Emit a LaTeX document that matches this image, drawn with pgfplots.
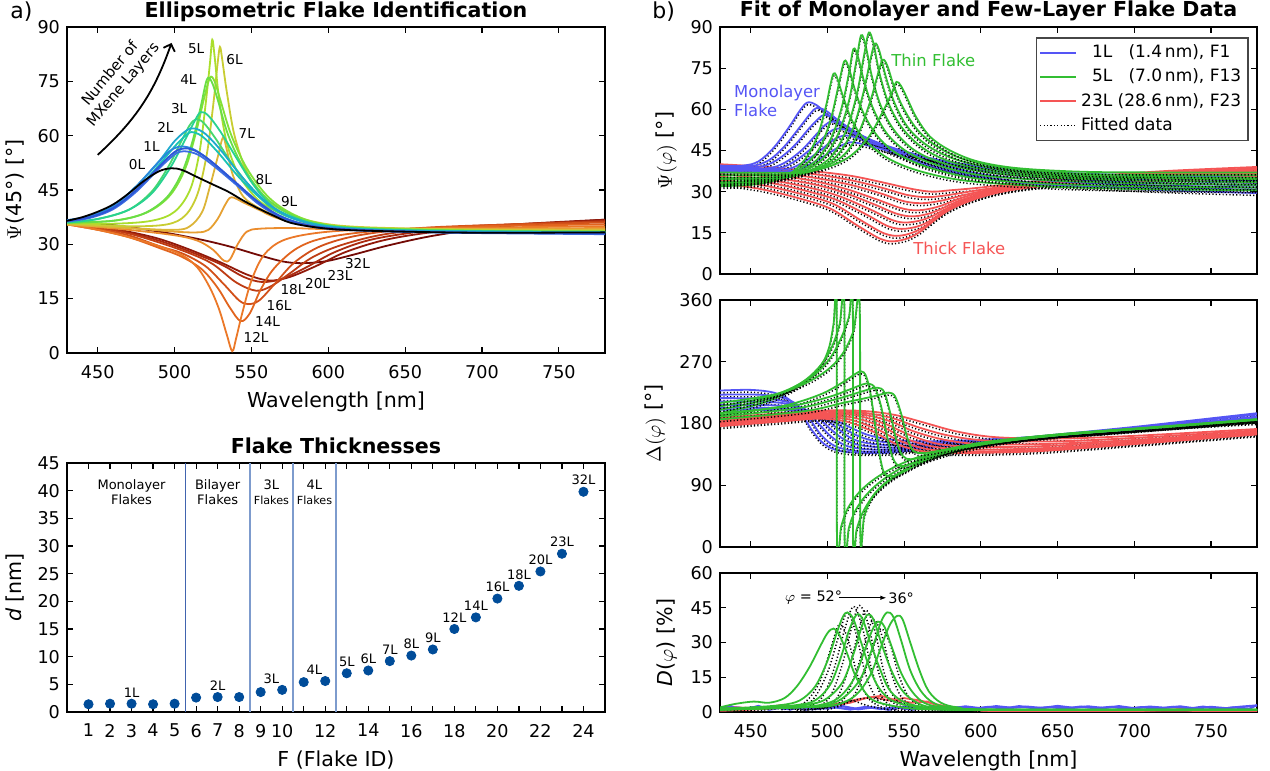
\documentclass[border=0pt]{standalone}
\usepackage{fontspec}
\setmainfont{DejaVu Sans}
\usepackage{pgfplots}
\usepackage{pgfplotstable}
\pgfplotsset{compat=1.18}
\usetikzlibrary{arrows.meta}

% right-hand panels
\definecolor{bl}{RGB}{85,85,245}
\definecolor{gr}{RGB}{50,190,50}
\definecolor{rd}{RGB}{245,85,85}
\definecolor{dotc}{RGB}{0,76,153}
\definecolor{lnA}{RGB}{65,100,175}
\definecolor{lnB}{RGB}{125,155,205}
% left panel colour map
\definecolor{kA}{RGB}{45,85,215}
\definecolor{kB}{RGB}{60,110,225}
\definecolor{kC}{RGB}{40,135,220}
\definecolor{kD}{RGB}{30,170,205}
\definecolor{kE}{RGB}{25,195,180}
\definecolor{kF}{RGB}{40,210,145}
\definecolor{kG}{RGB}{70,215,110}
\definecolor{kH}{RGB}{105,222,70}
\definecolor{kI}{RGB}{130,225,55}
\definecolor{kJ}{RGB}{170,222,45}
\definecolor{kK}{RGB}{200,205,50}
\definecolor{kL}{RGB}{220,180,55}
\definecolor{kM}{RGB}{230,160,50}
\definecolor{kN}{RGB}{235,140,45}
\definecolor{kO}{RGB}{235,120,40}
\definecolor{kP}{RGB}{225,100,30}
\definecolor{kQ}{RGB}{210,80,25}
\definecolor{kR}{RGB}{190,60,20}
\definecolor{kS}{RGB}{170,42,15}
\definecolor{kT}{RGB}{145,25,10}
\definecolor{kU}{RGB}{115,10,5}

\pgfplotsset{
  base/.style={
    scale only axis, anchor=south west,
    axis line style={line width=0.8pt},
    every tick/.style={black, line width=0.6pt},
    major tick length=2.8pt,
    tick label style={font=\fontsize{8.8}{10}\selectfont},
    xticklabel style={yshift=-2.5pt},
    label style={font=\fontsize{10.3}{12}\selectfont},
    title style={font=\bfseries\fontsize{10.3}{12}\selectfont, at={(0.5,1)}, anchor=base, yshift=-1pt},
    /pgf/number format/assume math mode=true,
  },
  wl/.style={xmin=430, xmax=780, xtick={450,500,...,750}},
  cl/.style={line width=0.9pt, smooth, tension=0.55},
  fitS/.style={black, line width=0.75pt, dash pattern=on 0.6pt off 1.1pt, smooth, tension=0.55, yshift=-1.2pt},
}
\newcommand\pair[2]{\addplot[fitS] table {#2};\addplot[cl,#1] table {#2};}

% ---------- Psi(phi) ----------
\pgfplotstableread[row sep=\\]{x y\\430 39.5\\445 39.5\\455 41\\465 46\\475 53.5\\482 59.5\\487 62.5\\493 61.5\\500 58\\510 53.5\\525 48.5\\545 43.5\\565 39.5\\590 36\\620 33.5\\660 32\\720 30.5\\780 29.5\\}\PsBa
\pgfplotstableread[row sep=\\]{x y\\430 39.3\\450 39.3\\462 41.5\\472 46.5\\482 53.5\\489 58.5\\493 60.5\\499 59.5\\507 56\\518 51.5\\535 46.5\\555 42\\575 38.5\\600 35.5\\640 33\\700 31.5\\780 30.8\\}\PsBb
\pgfplotstableread[row sep=\\]{x y\\430 39\\455 39\\467 41.5\\478 46.5\\488 53\\494 56.5\\498 58\\504 57\\512 54\\524 50\\540 46\\560 42\\580 39\\605 36\\650 33.8\\700 32.5\\780 31.5\\}\PsBc
\pgfplotstableread[row sep=\\]{x y\\430 38.5\\460 38.5\\472 40.5\\483 45\\493 51\\499 54.5\\503 55.5\\509 54.7\\517 52\\530 48.5\\548 45\\568 41.5\\590 38.8\\615 36.5\\660 34.5\\720 33\\780 32.3\\}\PsBd
\pgfplotstableread[row sep=\\]{x y\\430 38\\465 38.3\\477 40.5\\488 45\\498 50\\503 52.3\\507 53\\513 52.3\\522 50\\535 47\\555 44\\575 41\\598 38.5\\625 36.5\\670 35\\730 33.8\\780 33.2\\}\PsBe
\pgfplotstableread[row sep=\\]{x y\\430 37.5\\470 38\\482 40\\493 44\\503 48.5\\508 50\\511 50.5\\517 50\\527 48\\542 45.5\\560 43\\582 40.5\\605 38.5\\635 37\\680 35.5\\740 34.5\\780 34\\}\PsBf
\pgfplotstableread[row sep=\\]{x y\\430 37\\475 37.5\\488 39.8\\498 43\\508 46.5\\512 47.5\\515 48\\521 47.6\\532 46\\548 44\\568 42\\590 40\\615 38.5\\650 37\\700 36\\780 35\\}\PsBg
\pgfplotstableread[row sep=\\]{x y\\430 32\\450 32.5\\465 34\\477 37\\487 43\\494 51\\499 61\\502 69\\504 73\\506 72\\510 65\\516 56\\525 48.5\\540 42\\560 37.5\\590 34\\640 32\\700 31\\780 30.5\\}\PsGa
\pgfplotstableread[row sep=\\]{x y\\430 32.5\\455 33.5\\472 35.5\\485 39.5\\495 46\\502 56\\507 68\\511 77.5\\514 75\\518 67\\524 58\\533 50\\545 44\\565 39\\595 35\\640 33\\700 32\\780 31.5\\}\PsGb
\pgfplotstableread[row sep=\\]{x y\\430 33\\460 34\\478 36.5\\492 41\\502 49\\509 60\\514 73\\517 82\\520 79\\524 70\\530 60\\539 51\\552 44.5\\570 40\\600 36\\650 34\\710 33\\780 32.5\\}\PsGc
\pgfplotstableread[row sep=\\]{x y\\430 33.5\\465 34.5\\483 37\\497 42\\507 51\\514 63\\519 78\\522 87\\525 83\\529 72\\535 61\\544 52\\557 45\\575 40.5\\605 37\\650 35\\710 34\\780 33.5\\}\PsGd
\pgfplotstableread[row sep=\\]{x y\\430 34.5\\470 35\\488 37.5\\502 42.5\\512 52\\519 65\\524 80\\527 88\\530 84\\534 73\\540 62\\549 53\\562 46\\580 41\\610 37.5\\655 35.5\\715 34.8\\780 34.5\\}\PsGe
\pgfplotstableread[row sep=\\]{x y\\430 35\\472 35.5\\492 38\\506 43\\516 52\\523 65\\528 78\\531 84\\534 81\\538 72\\544 62\\553 53\\566 46.5\\585 41.5\\615 38\\660 36\\720 35.3\\780 35\\}\PsGf
\pgfplotstableread[row sep=\\]{x y\\430 36\\475 36.3\\495 38.5\\510 43\\520 51\\528 63\\533 73\\536 78\\539 76\\543 69\\549 61\\558 53\\570 47\\588 42\\618 38.5\\665 36.5\\725 36\\780 36\\}\PsGg
\pgfplotstableread[row sep=\\]{x y\\430 37\\480 37\\500 39\\515 43\\527 50\\536 59\\542 66\\545 70\\548 68.5\\552 64\\558 57\\567 50\\580 45\\598 41\\625 38.5\\670 37.2\\730 37\\780 37\\}\PsGh
\pgfplotstableread[row sep=\\]{x y\\430 40\\460 39\\490 37.5\\515 35.8\\535 33.5\\555 31\\568 30\\580 30.5\\600 31.5\\630 33.5\\670 35.5\\720 37.5\\780 39\\}\PsRa
\pgfplotstableread[row sep=\\]{x y\\430 39.5\\460 38.3\\490 36.5\\515 34.2\\535 31.5\\552 28.8\\565 28\\578 28.7\\598 30.5\\630 33\\670 35.2\\720 37\\780 38.5\\}\PsRb
\pgfplotstableread[row sep=\\]{x y\\430 39\\460 37.5\\490 35.2\\515 32.5\\535 29.3\\550 26.5\\562 25.8\\575 26.8\\595 29.5\\625 32.5\\670 35\\720 36.7\\780 38\\}\PsRc
\pgfplotstableread[row sep=\\]{x y\\430 38.2\\460 36.5\\490 34\\512 31\\532 27.2\\548 24\\559 23.2\\572 24.5\\592 28.5\\622 32\\665 34.5\\720 36.3\\780 37.5\\}\PsRd
\pgfplotstableread[row sep=\\]{x y\\430 37.5\\460 35.5\\490 32.8\\510 29.8\\530 25.5\\545 22\\556 21\\569 22.5\\590 27.5\\620 31.5\\665 34.2\\720 36\\780 37\\}\PsRe
\pgfplotstableread[row sep=\\]{x y\\430 36.5\\460 34.5\\488 31.5\\508 28.3\\528 23.5\\543 19.5\\553 18.8\\566 20.5\\588 26.5\\618 31\\660 33.8\\720 35.5\\780 36.5\\}\PsRf
\pgfplotstableread[row sep=\\]{x y\\430 35.5\\460 33.5\\486 30.3\\506 27\\525 21.8\\540 17.3\\551 16.5\\564 18.5\\585 25.5\\615 30.5\\660 33.5\\720 35\\780 36\\}\PsRg
\pgfplotstableread[row sep=\\]{x y\\430 34.3\\458 32.3\\484 29\\504 25.5\\522 19.5\\537 14.8\\548 14\\561 16.5\\583 24.5\\613 30\\655 33\\720 34.5\\780 35.5\\}\PsRh
\pgfplotstableread[row sep=\\]{x y\\430 33\\456 31\\482 27.5\\502 23.8\\520 17.5\\535 12.7\\545 12\\558 14.5\\580 23.5\\610 29.5\\650 32.5\\720 34\\780 35\\}\PsRi

% ---------- Delta(phi) ----------
\pgfplotstableread[row sep=\\]{x y\\430 228\\450 229\\465 225\\475 215\\483 195\\490 170\\498 150\\508 140\\525 137\\545 138\\570 145\\600 153\\650 164\\700 175\\740 185\\780 195\\}\DeBa
\pgfplotstableread[row sep=\\]{x y\\430 222\\455 222\\470 218\\480 208\\488 188\\496 163\\505 147\\518 140\\535 139\\560 143\\600 152\\650 163\\700 174\\780 193\\}\DeBb
\pgfplotstableread[row sep=\\]{x y\\430 217\\460 216\\476 210\\486 198\\495 178\\503 160\\513 147\\528 142\\550 143\\580 148\\620 156\\680 168\\780 190\\}\DeBc
\pgfplotstableread[row sep=\\]{x y\\430 212\\465 211\\480 205\\492 192\\501 174\\510 158\\520 149\\537 145\\560 146\\590 151\\630 158\\690 170\\780 188\\}\DeBd
\pgfplotstableread[row sep=\\]{x y\\430 207\\470 206\\486 200\\497 188\\507 172\\516 158\\527 151\\545 148\\570 149\\600 153\\640 160\\700 171\\780 186\\}\DeBe
\pgfplotstableread[row sep=\\]{x y\\430 203\\472 202\\490 196\\502 185\\512 171\\522 160\\533 154\\552 151\\578 152\\610 156\\650 162\\710 172\\780 185\\}\DeBf
\pgfplotstableread[row sep=\\]{x y\\430 200\\475 199\\494 194\\506 184\\517 172\\527 163\\540 157\\560 154\\585 155\\615 158\\660 164\\720 174\\780 184\\}\DeBg
\pgfplotstableread[row sep=\\]{x y\\430 195\\450 205\\465 216\\478 230\\488 245\\496 265\\501 290\\504 325\\506 360\\506.3 0\\509 30\\513 55\\520 78\\530 98\\545 118\\565 135\\600 152\\650 164\\700 172\\780 182\\}\DeGa
\pgfplotstableread[row sep=\\]{x y\\430 200\\455 212\\472 226\\486 244\\496 266\\503 292\\508 325\\511 360\\511.3 0\\514 28\\518 52\\525 75\\535 96\\550 117\\575 138\\610 154\\660 166\\720 175\\780 184\\}\DeGb
\pgfplotstableread[row sep=\\]{x y\\430 205\\460 218\\478 233\\492 252\\502 276\\509 305\\514 335\\516.5 360\\516.8 0\\519 25\\523 50\\530 75\\540 96\\556 118\\580 137\\620 155\\670 167\\730 176\\780 185\\}\DeGc
\pgfplotstableread[row sep=\\]{x y\\430 210\\465 222\\485 238\\500 258\\510 282\\517 315\\521 355\\521.5 15\\524 45\\529 72\\537 92\\550 112\\570 132\\600 150\\650 163\\720 175\\780 186\\}\DeGd
\pgfplotstableread[row sep=\\]{x y\\430 192\\470 205\\495 222\\510 240\\518 252\\522 256\\525 250\\528 225\\531 180\\534 135\\537 108\\542 103\\550 110\\565 128\\590 146\\630 159\\690 170\\780 185\\}\DeGe
\pgfplotstableread[row sep=\\]{x y\\430 195\\475 205\\500 218\\515 230\\523 237\\527 238\\531 232\\535 205\\539 160\\543 128\\548 118\\560 125\\580 140\\620 156\\680 169\\780 186\\}\DeGf
\pgfplotstableread[row sep=\\]{x y\\430 190\\480 202\\505 215\\520 225\\529 231\\533 232\\537 226\\541 195\\545 155\\549 133\\555 128\\570 135\\595 148\\640 161\\700 172\\780 186\\}\DeGg
\pgfplotstableread[row sep=\\]{x y\\430 186\\485 198\\510 210\\527 218\\536 223\\540 225\\544 220\\548 195\\552 160\\556 140\\563 137\\580 143\\610 153\\660 165\\720 175\\780 186\\}\DeGh
\pgfplotstableread[row sep=\\]{x y\\430 188\\470 195\\500 199\\525 198\\545 192\\565 180\\585 168\\610 160\\650 158\\700 162\\780 172\\}\DeRa
\pgfplotstableread[row sep=\\]{x y\\430 186\\470 193\\500 197\\522 196\\542 188\\560 174\\580 162\\605 155\\650 154\\700 159\\780 170\\}\DeRb
\pgfplotstableread[row sep=\\]{x y\\430 184\\470 191\\500 195\\520 194\\540 184\\557 168\\577 156\\600 150\\640 150\\700 156\\780 168\\}\DeRc
\pgfplotstableread[row sep=\\]{x y\\430 182\\470 189\\498 193\\518 192\\537 180\\554 163\\573 150\\598 146\\640 147\\700 154\\780 167\\}\DeRd
\pgfplotstableread[row sep=\\]{x y\\430 180\\470 187\\497 191\\516 189\\535 176\\551 158\\570 146\\595 142\\640 144\\700 152\\780 166\\}\DeRe
\pgfplotstableread[row sep=\\]{x y\\430 178\\470 185\\495 189\\514 186\\532 172\\548 154\\567 142\\592 139\\640 142\\700 151\\780 165\\}\DeRf
\pgfplotstableread[row sep=\\]{x y\\430 176\\470 183\\494 187\\512 183\\530 168\\545 150\\564 139\\590 137\\640 140\\700 150\\780 164\\}\DeRg

% ---------- D(phi) ----------
\pgfplotstableread[row sep=\\]{x y\\430 2\\440 3.5\\452 4.5\\462 4\\472 6\\480 11\\488 19\\495 28\\500 34\\504 36\\508 33\\513 25\\518 16\\524 9\\530 5\\540 3\\555 1.5\\580 1\\650 1\\780 1\\}\DdGa
\pgfplotstableread[row sep=\\]{x y\\430 1.5\\450 2\\470 3\\482 5\\492 11\\500 22\\506 34\\510 41\\513 43\\517 40\\522 30\\528 18\\534 10\\542 5\\555 2.5\\580 1\\650 1\\780 1\\}\DdGb
\pgfplotstableread[row sep=\\]{x y\\430 1.5\\460 2\\480 3\\492 5\\502 12\\509 24\\514 35\\519 42\\523 40\\528 30\\534 19\\540 10\\548 5\\560 2.5\\590 1\\780 1\\}\DdGc
\pgfplotstableread[row sep=\\]{x y\\430 1\\470 2\\490 3.5\\500 6\\510 13\\517 25\\522 36\\526 42\\530 40\\535 30\\541 19\\548 10\\556 5\\568 2\\600 1\\780 1\\}\DdGd
\pgfplotstableread[row sep=\\]{x y\\430 1\\475 2\\495 3\\507 6\\517 14\\524 26\\529 35\\533 39\\537 37\\542 28\\548 17\\555 9\\563 4\\575 2\\600 1\\780 1\\}\DdGe
\pgfplotstableread[row sep=\\]{x y\\430 1\\480 2\\500 3\\512 7\\522 15\\530 29\\535 39\\539 43\\543 41\\548 31\\554 18\\561 9\\569 4\\580 2\\610 1\\780 1\\}\DdGf
\pgfplotstableread[row sep=\\]{x y\\430 1\\485 2\\505 3\\518 7\\528 16\\536 30\\541 38\\545.5 41.5\\549 40\\554 30\\560 18\\566 9\\574 4\\585 2\\610 1\\780 1\\}\DdGg
\pgfplotstableread[row sep=\\]{x y\\470 1\\485 4\\495 13\\502 27\\508 38\\514 30\\520 15\\528 5\\540 1\\}\DdFa
\pgfplotstableread[row sep=\\]{x y\\475 1\\490 5\\500 17\\507 32\\513 43\\519 33\\525 16\\533 5\\545 1\\}\DdFb
\pgfplotstableread[row sep=\\]{x y\\480 1\\495 5\\504 18\\511 35\\517 45.5\\523 36\\529 18\\537 5\\550 1\\}\DdFc
\pgfplotstableread[row sep=\\]{x y\\485 1\\500 5\\509 19\\516 37\\521 46\\527 37\\533 18\\541 5\\555 1\\}\DdFd
\pgfplotstableread[row sep=\\]{x y\\490 1\\505 5\\514 19\\520 34\\525 44\\531 35\\537 17\\545 5\\560 1\\}\DdFe
\pgfplotstableread[row sep=\\]{x y\\495 1\\510 5\\519 18\\525 31\\530 40\\536 32\\542 16\\550 5\\565 1\\}\DdFf
\pgfplotstableread[row sep=\\]{x y\\500 1\\515 5\\524 17\\530 28\\535 36\\541 29\\547 15\\555 5\\570 1\\}\DdFg

\begin{document}
\begin{tikzpicture}
\useasboundingbox (0,0) rectangle (635pt,385.5pt);
\node[anchor=base west, inner sep=0, font=\fontsize{11}{13}\selectfont] at (5pt,376pt) {a)};
\node[anchor=base west, inner sep=0, font=\fontsize{11}{13}\selectfont] at (326pt,376pt) {b)};

% ================= a) top: Psi(45)
\begin{axis}[base, wl, at={(33.5pt,209pt)}, width=269pt, height=163pt,
  ymin=0, ymax=90, ytick={0,15,...,90},
  xlabel={Wavelength [nm]}, ylabel={$\Psi$(45°) [°]},
  title={Ellipsometric Flake Identification}]
\addplot[cl,kU] coordinates {(430,36.2) (460,35.3) (490,33.5) (515,31.5) (535,29.5) (555,27) (570,25.3) (582,24.8) (598,25.3) (615,27) (640,29.8) (670,32.5) (710,34.8) (780,36.8)};
\addplot[cl,kT] coordinates {(430,36.2) (450,35) (470,33.5) (490,31.5) (510,28.5) (530,25) (548,21.5) (562,20) (575,21) (592,24) (612,28) (640,31.5) (680,34) (730,35.7) (780,36.8)};
\addplot[cl,kS] coordinates {(430,36) (450,34.8) (470,33.2) (490,31) (510,28) (530,24.5) (545,21) (557,19.6) (570,20.5) (585,23.5) (605,28) (630,31.5) (670,34) (720,35.5) (780,36.5)};
\addplot[cl,kR] coordinates {(430,36) (450,34.6) (470,33) (490,30.5) (510,27.5) (525,24.5) (540,19.5) (553,17.2) (563,18.5) (575,22) (590,26.5) (610,30) (640,33) (690,35) (780,36.3)};
\addplot[cl,kQ] coordinates {(430,35.8) (450,34.3) (470,32.5) (490,29.5) (505,27.5) (520,24) (532,19) (542,14.5) (548,13.5) (555,14.5) (565,19) (578,25) (595,29.5) (620,32.5) (660,34.5) (720,35.5) (780,36)};
\addplot[cl,kP] coordinates {(430,35.5) (450,34) (470,32) (490,29) (505,26.5) (518,23) (528,18) (536,12.5) (543,8.8) (549,11) (556,17.5) (565,23.5) (580,29) (600,32) (640,34) (700,35) (780,35.5)};
\addplot[cl,kO] coordinates {(430,35.5) (450,34) (470,32) (490,29.5) (505,27) (515,23.5) (523,18) (529,12) (534,5) (537.5,0.5) (540,4) (544,11) (550,20) (558,27) (570,31) (590,33) (620,34) (680,34.5) (780,35)};
\addplot[cl,kN] coordinates {(430,35.5) (470,34) (500,32.5) (515,31) (525,28.5) (532,25.5) (536,25.8) (541,30) (547,33.5) (555,34.3) (575,34.5) (600,34.2) (650,34.2) (780,34.5)};
\addplot[cl,kM] coordinates {(430,35.5) (470,34.5) (500,33.5) (515,33.3) (522,34) (528,37) (533,41) (537,43) (545,41.5) (555,39.5) (565,37.5) (580,35.8) (600,34.8) (650,34.2) (780,34.2)};
\addplot[cl,kL] coordinates {(430,35.5) (470,34.5) (500,34) (510,35) (518,39) (523,46) (528,54) (531.5,59.5) (534,56) (538,49) (545,43) (555,40) (565,38) (580,36) (600,35) (650,34.3) (780,34)};
\addplot[cl,kK] coordinates {(430,35.8) (470,35) (495,35.5) (507,38) (515,44) (521,55) (525,68) (528,80) (529.5,84.5) (531,81) (534,72) (539,60) (547,50) (558,43) (572,39) (590,36.3) (620,34.8) (700,34) (780,33.8)};
\addplot[cl,kJ] coordinates {(430,36) (460,35.7) (485,36.5) (500,39) (510,45) (516,55) (520,68) (523,80) (524.5,86.5) (526,82) (529,70) (534,58) (542,49) (555,42) (570,38.5) (590,36) (620,34.6) (700,33.8) (780,33.6)};
\addplot[cl,kI] coordinates {(430,36) (460,36.5) (482,38.8) (497,43.5) (507,51) (514,61) (519,70) (523,76) (526,75) (530,69.5) (537,60) (547,51) (560,43.5) (574,39) (592,36) (620,34.5) (700,33.7) (780,33.5)};
\addplot[cl,kH] coordinates {(430,36) (460,36.5) (480,38.5) (495,43) (505,50) (512,59) (517,68) (521,75.5) (524,75) (528,70) (535,60) (545,51) (558,43.5) (572,39) (590,36) (620,34.5) (700,33.7) (780,33.5)};
\addplot[cl,kG] coordinates {(430,36) (450,37) (470,39.5) (485,44.5) (496,51.5) (505,59) (510,63) (514,64.5) (519,63.5) (527,59) (537,52.5) (550,45.5) (563,40) (578,37) (600,35) (640,34) (700,33.6) (780,33.4)};
\addplot[cl,kF] coordinates {(430,36) (450,37) (470,39.5) (485,44) (497,51) (507,59) (513,64) (517,66.5) (522,65.5) (530,61) (540,54) (552,46) (565,40) (580,36.8) (600,35) (640,34) (700,33.6) (780,33.4)};
\addplot[cl,kE] coordinates {(430,36.4) (445,37.5) (460,40) (475,45) (490,52) (500,57) (507,60) (511,61) (518,59.8) (528,55.5) (543,48) (558,42) (574,38) (595,35.3) (630,34) (700,33.5) (780,33.2)};
\addplot[cl,kD] coordinates {(430,36.5) (445,37.8) (460,40.5) (475,46) (490,53) (500,58.5) (508,61.5) (513,62) (520,60.5) (530,56) (545,48) (560,41.5) (575,37.5) (595,35.2) (630,34) (700,33.5) (780,33.3)};
\addplot[cl,kC] coordinates {(430,36.7) (445,37.8) (460,40.5) (475,46) (488,52) (497,55.8) (504,57) (512,56.3) (522,53.5) (537,48) (552,42.5) (568,38) (588,35.2) (620,34) (680,33.3) (780,33)};
\addplot[cl,kB] coordinates {(430,36.3) (445,37.3) (460,39.7) (475,44.5) (490,51) (500,54.8) (506,55.7) (515,54.8) (525,51.8) (540,46.5) (555,41) (570,37.3) (590,34.8) (620,33.8) (680,33.2) (780,32.8)};
\addplot[cl,kA] coordinates {(430,36.5) (445,37.5) (460,40) (475,45) (490,51.5) (500,55.5) (507,56.5) (515,55.5) (525,52.5) (540,47) (555,41.5) (570,37.5) (590,35) (620,34) (680,33.3) (780,33)};
\addplot[cl,black] coordinates {(430,36.5) (440,37.5) (450,39) (460,41) (470,44) (480,47.5) (490,50.2) (498,51) (505,50.5) (515,48.5) (525,46.5) (535,44.5) (545,42) (555,39.8) (565,37.8) (575,36) (590,34.8) (610,34) (650,33.5) (700,33.2) (780,33.3)};
\begin{scope}[font=\fontsize{6.8}{8}\selectfont]
\node at (axis cs:475.6,52) {0L};
\node at (axis cs:485,57) {1L};
\node at (axis cs:494,62.4) {2L};
\node at (axis cs:503,67.6) {3L};
\node at (axis cs:509,75.4) {4L};
\node at (axis cs:514,84) {5L};
\node at (axis cs:539,81) {6L};
\node at (axis cs:547,60.5) {7L};
\node at (axis cs:558,48) {8L};
\node at (axis cs:574.5,41.7) {9L};
\node at (axis cs:553,4.2) {12L};
\node at (axis cs:560.5,8.6) {14L};
\node at (axis cs:568,13) {16L};
\node at (axis cs:577,17.4) {18L};
\node at (axis cs:593,19.3) {20L};
\node at (axis cs:607.6,21.3) {23L};
\node at (axis cs:619,24.8) {32L};
\end{scope}
\draw[-{Straight Barb[length=3pt]}, line width=0.9pt] (axis cs:450,54.7) to[bend right=14] (axis cs:498,85.6);
\node[rotate=50, align=center, font=\fontsize{7.4}{8.6}\selectfont] at (axis cs:462.5,75.5) {Number of\\MXene Layers};
\end{axis}

% ================= a) bottom: thicknesses
\begin{axis}[base, at={(33.5pt,29.5pt)}, width=269pt, height=124.5pt,
  xmin=0, xmax=25, ymin=0, ymax=45,
  xtick={1,...,24}, xticklabels={1,2,3,4,5,6,7,8,9,10,{},12,{},14,{},16,{},18,{},20,{},22,{},24},
  ytick={0,5,...,45},
  xlabel={F (Flake ID)}, ylabel={\textit{d} [nm]},
  title={Flake Thicknesses}]
\addplot[lnA, line width=0.6pt] coordinates {(5.5,0) (5.5,45)};
\addplot[lnB, line width=0.6pt] coordinates {(8.5,0) (8.5,45)};
\addplot[lnB, line width=0.6pt] coordinates {(10.5,0) (10.5,45)};
\addplot[lnB, line width=0.6pt] coordinates {(12.5,0) (12.5,45)};
\addplot[only marks, mark=*, mark size=2.3pt, color=dotc] coordinates {(1,1.4) (2,1.5) (3,1.5) (4,1.4) (5,1.5) (6,2.6) (7,2.7) (8,2.7) (9,3.6) (10,4.0) (11,5.4) (12,5.6) (13,7.0) (14,7.5) (15,9.2) (16,10.2) (17,11.3) (18,15.0) (19,17.1) (20,20.5) (21,22.8) (22,25.4) (23,28.6) (24,39.8)};
\begin{scope}[font=\fontsize{6.5}{7.5}\selectfont]
\node[align=center] at (axis cs:3,39.7) {Monolayer\\Flakes};
\node[align=center] at (axis cs:7,39.7) {Bilayer\\Flakes};
\node[align=center] at (axis cs:9.5,39.7) {3L\\{\fontsize{5.6}{6.5}\selectfont Flakes}};
\node[align=center] at (axis cs:11.5,39.7) {4L\\{\fontsize{5.6}{6.5}\selectfont Flakes}};
\end{scope}
\begin{scope}[every node/.style={anchor=south, yshift=2.6pt, inner sep=0.5pt, font=\fontsize{6.5}{7.5}\selectfont}]
\node at (axis cs:3,1.5) {1L};
\node at (axis cs:7,2.7) {2L};
\node at (axis cs:9.5,4.0) {3L};
\node at (axis cs:11.5,5.6) {4L};
\node at (axis cs:13,7.0) {5L};
\node at (axis cs:14,7.5) {6L};
\node at (axis cs:15,9.2) {7L};
\node at (axis cs:16,10.2) {8L};
\node at (axis cs:17,11.3) {9L};
\node at (axis cs:18,15.0) {12L};
\node at (axis cs:19,17.1) {14L};
\node at (axis cs:20,20.5) {16L};
\node at (axis cs:21,22.8) {18L};
\node at (axis cs:22,25.4) {20L};
\node at (axis cs:23,28.6) {23L};
\node at (axis cs:24,39.8) {32L};
\end{scope}
\end{axis}

% ================= b) top: Psi(phi)
\begin{axis}[base, wl, at={(360pt,248.5pt)}, width=268.5pt, height=123.5pt,
  ymin=0, ymax=90, ytick={0,15,...,90}, xticklabels={},
  ylabel={$\Psi(\varphi)$ [°]},
  title={Fit of Monolayer and Few-Layer Flake Data},
  legend style={at={(1,1)}, anchor=north east, xshift=-4pt, yshift=-5pt,
    font=\fontsize{8.5}{9.5}\selectfont, draw={rgb,255:red,70;green,70;blue,70},
    line width=0.8pt, row sep=0.2pt, inner sep=1.5pt},
  legend cell align=left,
  legend image code/.code={\draw[#1] (0pt,0pt) -- (18pt,0pt);}]
\addlegendimage{bl, line width=0.9pt}
\addlegendentry{\phantom{2}1L\phantom{2} (1.4\,nm), F1}
\addlegendimage{gr, line width=0.9pt}
\addlegendentry{\phantom{2}5L\phantom{2} (7.0\,nm), F13}
\addlegendimage{rd, line width=0.9pt}
\addlegendentry{23L (28.6\,nm), F23}
\addlegendimage{black, line width=0.8pt, dash pattern=on 0.6pt off 1.1pt}
\addlegendentry{Fitted data}
\pair{rd}{\PsRa}\pair{rd}{\PsRb}\pair{rd}{\PsRc}\pair{rd}{\PsRd}\pair{rd}{\PsRe}
\pair{rd}{\PsRf}\pair{rd}{\PsRg}\pair{rd}{\PsRh}\pair{rd}{\PsRi}
\pair{bl}{\PsBa}\pair{bl}{\PsBb}\pair{bl}{\PsBc}\pair{bl}{\PsBd}\pair{bl}{\PsBe}
\pair{bl}{\PsBf}\pair{bl}{\PsBg}
\pair{gr}{\PsGa}\pair{gr}{\PsGb}\pair{gr}{\PsGc}\pair{gr}{\PsGd}\pair{gr}{\PsGe}
\pair{gr}{\PsGf}\pair{gr}{\PsGg}\pair{gr}{\PsGh}
\node[anchor=west, align=left, text=bl, font=\fontsize{8.2}{9.2}\selectfont, inner sep=0] at (axis cs:439,63.1) {Monolayer\\Flake};
\node[anchor=west, text=gr, font=\fontsize{8.2}{9.2}\selectfont, inner sep=0] at (axis cs:541.5,77.7) {Thin Flake};
\node[anchor=west, text=rd, font=\fontsize{8.2}{9.2}\selectfont, inner sep=0] at (axis cs:555.8,9.4) {Thick Flake};
\end{axis}

% ================= b) middle: Delta(phi)
\begin{axis}[base, wl, at={(360pt,112pt)}, width=268.5pt, height=123.5pt,
  ymin=0, ymax=360, ytick={0,90,...,360}, xticklabels={},
  ylabel={$\Delta(\varphi)$ [°]}]
\pair{bl}{\DeBa}\pair{bl}{\DeBb}\pair{bl}{\DeBc}\pair{bl}{\DeBd}\pair{bl}{\DeBe}
\pair{bl}{\DeBf}\pair{bl}{\DeBg}
\pair{rd}{\DeRa}\pair{rd}{\DeRb}\pair{rd}{\DeRc}\pair{rd}{\DeRd}\pair{rd}{\DeRe}
\pair{rd}{\DeRf}\pair{rd}{\DeRg}
\pair{gr}{\DeGa}\pair{gr}{\DeGb}\pair{gr}{\DeGc}\pair{gr}{\DeGd}\pair{gr}{\DeGe}
\pair{gr}{\DeGf}\pair{gr}{\DeGg}\pair{gr}{\DeGh}
\end{axis}

% ================= b) bottom: depolarisation
\begin{axis}[base, wl, at={(360pt,29.5pt)}, width=268.5pt, height=69.5pt,
  ymin=0, ymax=60, ytick={0,15,...,60},
  xlabel={Wavelength [nm]}, ylabel={\textit{D}($\varphi$) [\%]}]
\addplot[bl, line width=1.1pt] coordinates {(430,1.5) (437,2.5) (444,1) (451,2) (458,1.2) (465,2.4) (472,1.3) (479,2) (486,1) (493,2.2) (500,1.5) (510,2.5) (520,1.2) (530,2) (540,1) (550,2.3) (560,1.4) (570,2.2) (580,1.5) (590,2.4) (600,1.6) (610,2.5) (620,1.8) (630,2.3) (640,1.7) (650,2.6) (660,1.8) (670,2.4) (680,1.7) (690,2.5) (700,1.6) (710,2.3) (720,1.8) (730,2.4) (740,1.5) (750,2.2) (760,1.6) (770,2.3) (780,2.8)};
\addplot[bl, line width=1.1pt] coordinates {(433,1) (441,2) (448,1.3) (455,2.6) (462,1) (469,1.8) (476,1.1) (483,2.3) (490,1.2) (505,2) (515,1.1) (525,2.2) (535,1.3) (545,2) (555,1) (565,1.9) (575,1.2) (585,2) (595,1.4) (605,2.2) (615,1.5) (625,2.5) (635,1.6) (645,2.1) (655,1.5) (665,2.3) (675,1.6) (685,2.2) (695,1.4) (705,2.1) (715,1.3) (725,2.2) (735,1.4) (745,2.3) (755,1.2) (765,2) (775,1.4) (780,3)};
\addplot[rd, line width=0.9pt] coordinates {(430,1) (440,2) (455,1.5) (470,3) (485,2) (500,3) (510,4) (520,5.5) (530,6.5) (540,5) (550,6) (560,5) (570,3.5) (580,2) (590,1) (600,0.5) (780,0.5)};
\addplot[rd, line width=0.9pt] coordinates {(430,0.5) (450,1) (475,2) (500,2.5) (515,4) (525,6) (535,7) (545,5) (555,4) (565,4.5) (575,2) (590,1) (610,0.3) (700,0.3) (730,1.2) (740,0.3) (780,0.3)};
\addplot[fitS, yshift=1.2pt] coordinates {(430,1) (450,0.5) (470,1.5) (490,1) (505,3) (515,5) (525,3) (540,1) (560,0.5) (600,0.3)};
\addplot[fitS, yshift=1.2pt] coordinates {(480,0.5) (500,2) (515,4.5) (525,6) (540,5) (555,3) (570,1) (600,0.3)};
\addplot[fitS, yshift=1.2pt] table {\DdFa};\addplot[fitS, yshift=1.2pt] table {\DdFb};
\addplot[fitS, yshift=1.2pt] table {\DdFc};\addplot[fitS, yshift=1.2pt] table {\DdFd};
\addplot[fitS, yshift=1.2pt] table {\DdFe};\addplot[fitS, yshift=1.2pt] table {\DdFf};
\addplot[fitS, yshift=1.2pt] table {\DdFg};
\addplot[cl,gr] table {\DdGa};\addplot[cl,gr] table {\DdGb};\addplot[cl,gr] table {\DdGc};
\addplot[cl,gr] table {\DdGd};\addplot[cl,gr] table {\DdGe};\addplot[cl,gr] table {\DdGf};
\addplot[cl,gr] table {\DdGg};
\node[anchor=west, inner sep=0, font=\fontsize{7.2}{8}\selectfont] at (axis cs:472,49.3) {$\varphi$ = 52°};
\draw[-{Latex[length=3pt]}, line width=0.6pt] (axis cs:507.5,49.3) -- (axis cs:538.5,49.3);
\node[anchor=west, inner sep=0, font=\fontsize{7.2}{8}\selectfont] at (axis cs:539.5,49.3) {36°};
\end{axis}
\end{tikzpicture}
\end{document}
